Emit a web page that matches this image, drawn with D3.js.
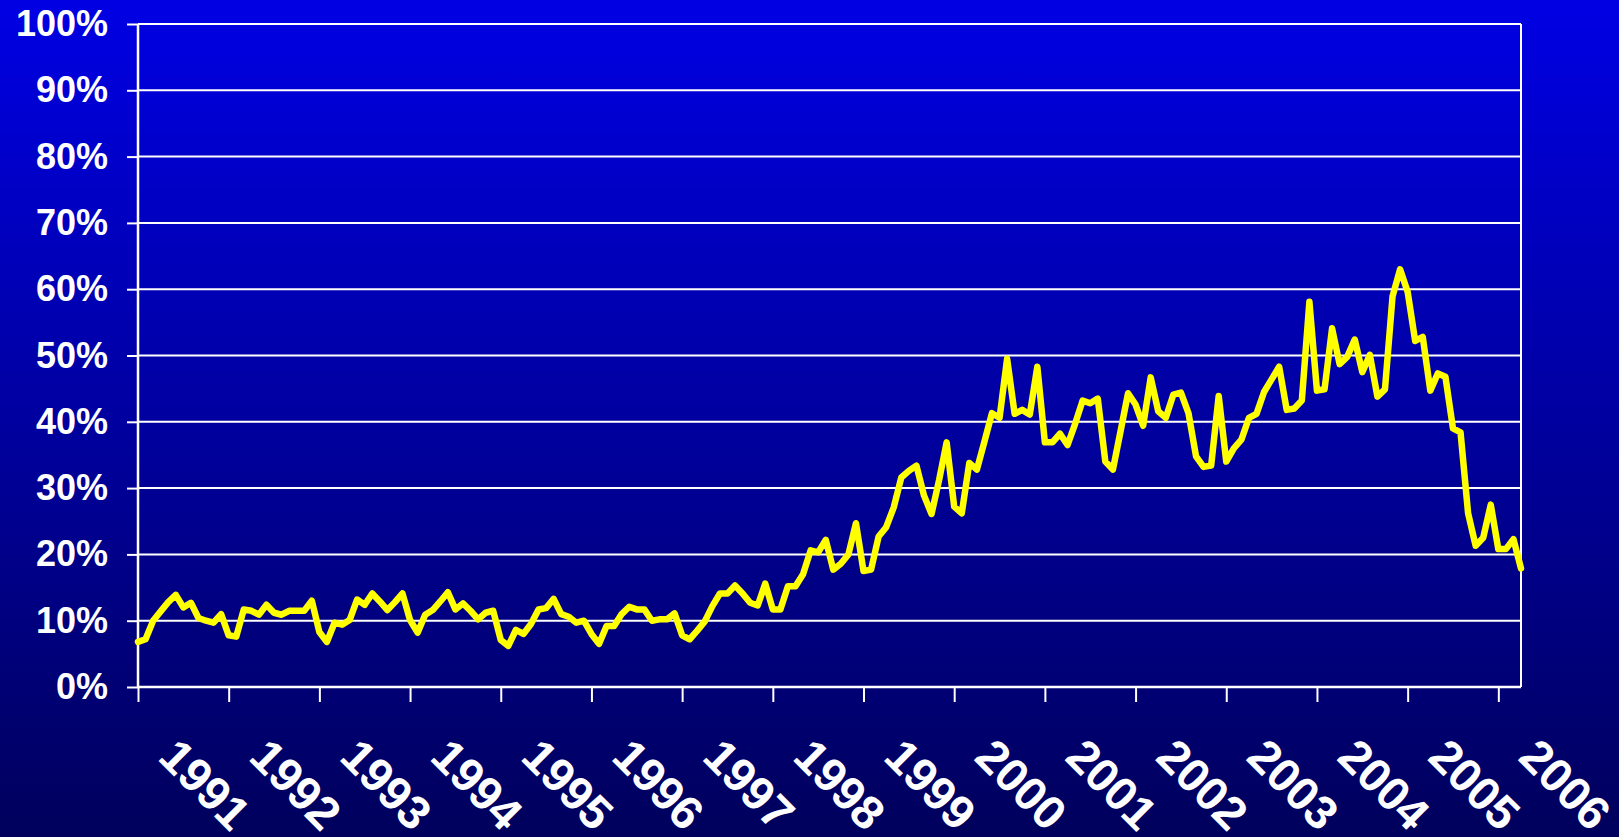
<!DOCTYPE html>
<html>
<head>
<meta charset="utf-8">
<script src="https://cdn.jsdelivr.net/npm/d3@7"></script>
<style>
  html, body { margin: 0; padding: 0; overflow: hidden; background: #000080; }
  svg { display: block; }
</style>
</head>
<body>
<svg id="chart" width="1619" height="837"></svg>
<script>
// Year labels on the category axis (one every 12 monthly points)
const yearLabels = ["1991","1992","1993","1994","1995","1996","1997","1998",
                    "1999","2000","2001","2002","2003","2004","2005","2006"];
const monthsPerYear = 12;

// Monthly share, in percent, from Jan 1991 onward
const shareValues = [
  6.8, 7.2, 10.0, 11.4, 12.8, 13.9, 12.0, 12.7, 10.4, 10.0, 9.7, 11.0,
  7.8, 7.6, 11.7, 11.5, 10.9, 12.4, 11.2, 10.9, 11.5, 11.5, 11.5, 13.0,
  8.3, 6.8, 9.7, 9.4, 10.1, 13.2, 12.4, 14.1, 12.9, 11.6, 12.8, 14.1,
  10.1, 8.2, 10.9, 11.6, 12.9, 14.3, 11.7, 12.6, 11.5, 10.2, 11.2, 11.5,
  7.1, 6.2, 8.6, 8.0, 9.5, 11.7, 11.9, 13.3, 11.0, 10.6, 9.7, 10.0,
  8.0, 6.5, 9.2, 9.2, 11.0, 12.1, 11.7, 11.7, 10.0, 10.2, 10.2, 11.1,
  7.8, 7.2, 8.5, 9.9, 12.2, 14.1, 14.1, 15.3, 14.1, 12.7, 12.3, 15.6,
  11.7, 11.7, 15.2, 15.2, 17.0, 20.6, 20.3, 22.2, 17.7, 18.6, 20.0, 24.7,
  17.5, 17.7, 22.7, 24.1, 27.1, 31.6, 32.6, 33.4, 28.9, 26.1, 31.2, 36.9,
  27.2, 26.2, 33.8, 32.8, 37.0, 41.3, 40.6, 49.5, 41.2, 41.8, 41.1, 48.3,
  36.9, 36.9, 38.2, 36.5, 39.7, 43.2, 42.8, 43.5, 34.0, 32.8, 38.5, 44.3,
  42.6, 39.4, 46.7, 41.6, 40.6, 44.1, 44.4, 41.3, 34.8, 33.2, 33.4, 43.9,
  34.0, 36.0, 37.3, 40.6, 41.2, 44.5, 46.4, 48.3, 41.8, 42.0, 43.2, 58.1,
  44.7, 44.9, 54.1, 48.7, 49.8, 52.4, 47.5, 50.1, 43.8, 44.9, 58.9, 63.0,
  59.6, 52.2, 52.8, 44.7, 47.3, 46.8, 39.0, 38.4, 26.2, 21.3, 22.5, 27.5,
  20.8, 20.8, 22.3, 17.9
];

// Value axis ticks, in percent
const yTickValues = [0, 10, 20, 30, 40, 50, 60, 70, 80, 90, 100];

const width = 1619, height = 837;
const margin = { top: 24, right: 98, bottom: 150, left: 138 };
const plotW = width - margin.left - margin.right;
const plotH = height - margin.top - margin.bottom;

const svg = d3.select("#chart");

// Background: vertical blue gradient across the whole slide
const defs = svg.append("defs");
const grad = defs.append("linearGradient")
  .attr("id", "bgGrad").attr("x1", 0).attr("y1", 0).attr("x2", 0).attr("y2", 1);
grad.append("stop").attr("offset", "0%").attr("stop-color", "#0000E4");
grad.append("stop").attr("offset", "100%").attr("stop-color", "#00005C");
svg.append("rect").attr("width", width).attr("height", height).attr("fill", "url(#bgGrad)");

const g = svg.append("g").attr("transform", `translate(${margin.left},${margin.top})`);

const x = d3.scaleLinear().domain([0, shareValues.length - 1]).range([0, plotW]);
const y = d3.scaleLinear().domain([0, 100]).range([plotH, 0]);

const fontFamily = "'Liberation Sans', Arial, sans-serif";

// Horizontal gridlines
g.append("g")
  .selectAll("line")
  .data(yTickValues)
  .join("line")
  .attr("x1", 0).attr("x2", plotW)
  .attr("y1", d => y(d)).attr("y2", d => y(d))
  .attr("stroke", "#ffffff").attr("stroke-width", 2);

// Right border of the plot area
g.append("line")
  .attr("x1", plotW).attr("x2", plotW)
  .attr("y1", 0).attr("y2", plotH)
  .attr("stroke", "#ffffff").attr("stroke-width", 2);

// Value axis
const yAxis = g.append("g")
  .call(d3.axisLeft(y).tickValues(yTickValues).tickFormat(d => d + "%")
    .tickSize(11).tickPadding(19));
yAxis.select(".domain").attr("stroke", "#ffffff").attr("stroke-width", 2.5)
  .attr("d", `M0,0V${plotH}`);
yAxis.selectAll(".tick line").attr("stroke", "#ffffff").attr("stroke-width", 2);
yAxis.selectAll(".tick text")
  .attr("fill", "#ffffff")
  .style("font-family", fontFamily)
  .style("font-size", "36px")
  .style("font-weight", "bold");

// Category axis with a tick at the start of each year
const yearIdx = yearLabels.map((_, i) => i * monthsPerYear);
const xAxis = g.append("g")
  .attr("transform", `translate(0,${plotH})`)
  .call(d3.axisBottom(x).tickValues(yearIdx)
    .tickFormat((d, i) => yearLabels[i]).tickSize(15));
xAxis.select(".domain").attr("stroke", "#ffffff").attr("stroke-width", 2.5)
  .attr("d", `M0,0H${plotW}`);
xAxis.selectAll(".tick line").attr("stroke", "#ffffff").attr("stroke-width", 2);
xAxis.selectAll(".tick text")
  .attr("y", null).attr("dy", null)
  .attr("text-anchor", "start")
  .attr("transform", "translate(18,72) rotate(45)")
  .attr("fill", "#ffffff")
  .style("font-family", fontFamily)
  .style("font-size", "47px")
  .style("font-weight", "bold");

// The data line
const line = d3.line()
  .x((d, i) => x(i))
  .y(d => y(d));

g.append("path")
  .datum(shareValues)
  .attr("d", line)
  .attr("fill", "none")
  .attr("stroke", "#FFFF00")
  .attr("stroke-width", 6.5)
  .attr("stroke-linejoin", "round")
  .attr("stroke-linecap", "round");
</script>
</body>
</html>
